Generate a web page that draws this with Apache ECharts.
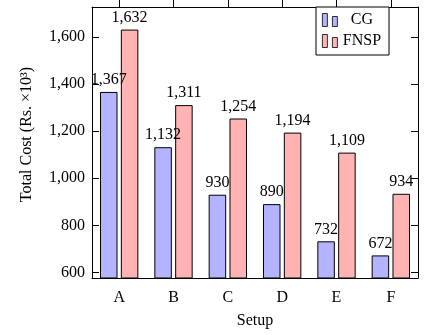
<!DOCTYPE html>
<html>
<head>
<meta charset="utf-8">
<script src="https://cdn.jsdelivr.net/npm/echarts@6/dist/echarts.min.js"></script>
<style>
  html, body { margin: 0; padding: 0; background: #fff; }
  #chart { width: 424px; height: 335px; }
</style>
</head>
<body>
<div id="chart"></div>
<script>
// Total cost per setup for the two solution methods
const setups = ['A', 'B', 'C', 'D', 'E', 'F'];
const cgCost = [1367, 1132, 930, 890, 732, 672];
const fnspCost = [1632, 1311, 1254, 1194, 1109, 934];
const yMin = 576;
const yMax = 1728;

const FONT = 'Liberation Serif';
const FS = 16;
const fmt = v => Number(v).toLocaleString('en-US');
const barIcon = 'path://M0,0H5V13H0Z M10,3H15V13H10Z';

const chart = echarts.init(document.getElementById('chart'), null, { renderer: 'canvas' });

const baseText = { fontFamily: FONT, fontSize: FS, color: '#000' };

chart.setOption({
  animation: false,
  backgroundColor: '#fff',
  textStyle: { fontFamily: FONT },
  grid: { left: 92, right: 6, top: 7, bottom: 57 },
  legend: {
    orient: 'vertical',
    left: 316,
    top: 7,
    padding: [5, 8, 6, 6],
    itemGap: 5,
    itemWidth: 15,
    itemHeight: 13,
    itemTextGap: 4,
    backgroundColor: '#fff',
    borderColor: '#000',
    borderWidth: 1,
    borderRadius: 0,
    icon: barIcon,
    itemStyle: { borderWidth: 0.8 },
    formatter: name => '{c|' + name + '}',
    textStyle: {
      ...baseText,
      rich: { c: { ...baseText, width: 39, align: 'center' } }
    },
    data: ['CG', 'FNSP']
  },
  xAxis: [
    {
      type: 'category',
      data: setups,
      position: 'bottom',
      name: 'Setup',
      nameLocation: 'middle',
      nameGap: 35,
      nameTextStyle: baseText,
      axisLine: { lineStyle: { color: '#000', width: 1 } },
      axisTick: { alignWithLabel: true, length: 7, inside: false, lineStyle: { color: '#000' } },
      axisLabel: { ...baseText, margin: 12 },
      splitLine: { show: false }
    },
    {
      type: 'category',
      data: setups,
      position: 'top',
      show: true,
      axisLine: { show: true, lineStyle: { color: '#000', width: 1 } },
      axisTick: { show: true, alignWithLabel: true, length: 7, inside: false, lineStyle: { color: '#000' } },
      axisLabel: { show: false },
      splitLine: { show: false }
    }
  ],
  yAxis: [
    {
      type: 'value',
      min: yMin,
      max: yMax,
      splitNumber: 5,
      position: 'left',
      name: 'Total Cost (Rs. ×10³)',
      nameLocation: 'middle',
      nameGap: 57,
      nameTextStyle: { ...baseText, padding: [0, 0, 0, 16] },
      axisLine: { show: true, lineStyle: { color: '#000', width: 1 } },
      axisTick: { show: true, inside: true, length: 7, lineStyle: { color: '#000' } },
      axisLabel: {
        ...baseText,
        margin: 7,
        showMinLabel: false,
        showMaxLabel: false,
        formatter: v => (v % 200 === 0 ? fmt(v) : '')
      },
      splitLine: { show: false }
    },
    {
      type: 'value',
      min: yMin,
      max: yMax,
      splitNumber: 5,
      position: 'right',
      axisLine: { show: true, lineStyle: { color: '#000', width: 1 } },
      axisTick: { show: true, inside: true, length: 7, lineStyle: { color: '#000' } },
      axisLabel: { show: false },
      splitLine: { show: false }
    }
  ],
  series: [
    {
      name: 'CG',
      type: 'bar',
      data: cgCost,
      barWidth: 17.5,
      barGap: '19%',
      itemStyle: { color: '#b3b3ff', borderColor: '#000', borderWidth: 1 },
      label: {
        show: true,
        position: 'top',
        distance: 4,
        ...baseText,
        formatter: p => fmt(p.value)
      }
    },
    {
      name: 'FNSP',
      type: 'bar',
      data: fnspCost,
      barWidth: 17.5,
      barGap: '19%',
      itemStyle: { color: '#ffb3b3', borderColor: '#000', borderWidth: 1 },
      label: {
        show: true,
        position: 'top',
        distance: 4,
        ...baseText,
        formatter: p => fmt(p.value)
      }
    }
  ]
});
</script>
</body>
</html>
